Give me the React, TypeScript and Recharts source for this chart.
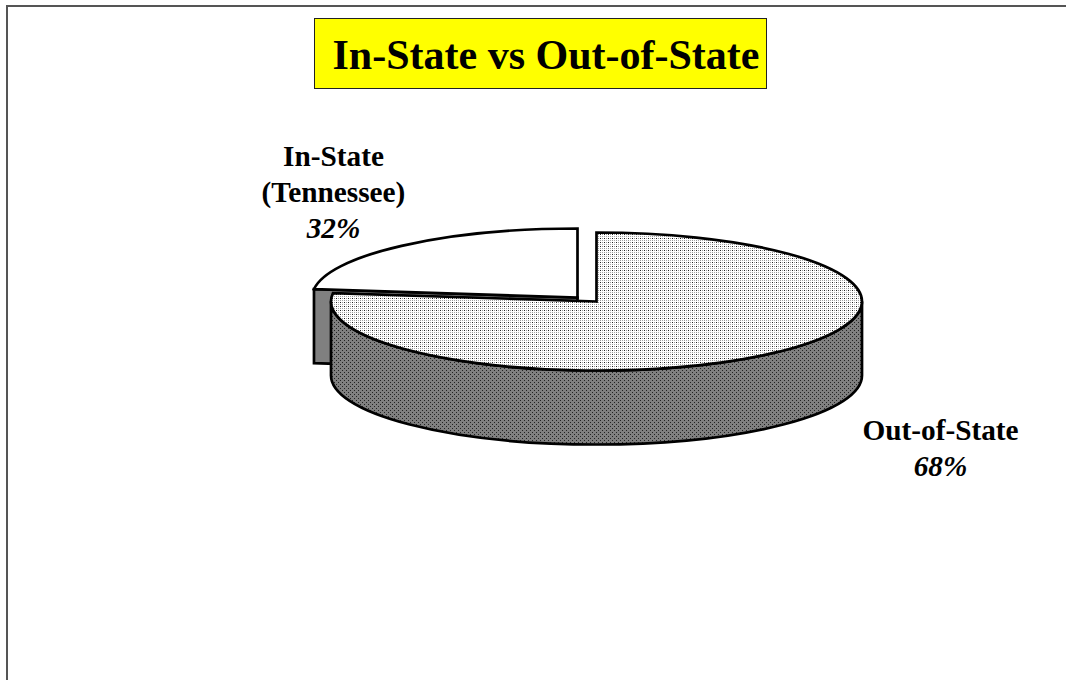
import { Pie, PieChart } from "recharts";

// values as labelled on the slide
const categories = ["In-State (Tennessee)", "Out-of-State"];
const shares = [32, 68];
const labelLines = [["In-State", "(Tennessee)"], ["Out-of-State"]];

const WIDTH = 1066;
const HEIGHT = 680;
const TILT = 69 / 265.5;
const DEPTH = 74;
const SERIF = '"Liberation Serif", "Times New Roman", serif';

// how far each slice is pulled out of the pie, and where its label sits
const explode = [
  { dx: -19, dy: -4 },
  { dx: 0, dy: 0 },
];
const labelPos = [
  { x: 333.5, y: 166 },
  { x: 940.5, y: 440 },
];

const pieData = categories.map((name, i) => ({ name, value: shares[i] }));

// the slide's 3D view stretches the big slice: 115.2 degrees of pie show as 83
const warp = (a: number) => {
  const f = a - 90;
  const split = 115.2;
  const drawn = 83;
  return f <= split
    ? 90 + (f * drawn) / split
    : 90 + drawn + ((f - split) * (360 - drawn)) / (360 - split);
};

const Slice = (props: any) => {
  const { cx, cy, outerRadius: r, startAngle, endAngle, index } = props;
  const i = index ?? categories.indexOf(props.name);
  const x0 = cx + explode[i].dx;
  const y0 = cy + explode[i].dy;
  const ry = r * TILT;
  const pt = (deg: number, drop = 0) => {
    const t = (deg * Math.PI) / 180;
    return `${x0 + r * Math.cos(t)} ${y0 - ry * Math.sin(t) + drop}`;
  };
  const a0 = warp(startAngle);
  const a1 = warp(endAngle);
  const large = a1 - a0 > 180 ? 1 : 0;
  const top = `M ${x0} ${y0} L ${pt(a0)} A ${r} ${ry} 0 ${large} 0 ${pt(a1)} Z`;
  const w0 = Math.max(a0, 180);
  const w1 = Math.min(a1, 360);
  return (
    <g stroke="#000" strokeWidth={2.7} strokeLinejoin="miter">
      {a1 < 180 && (
        <path
          d={`M ${pt(a1)} L ${x0} ${y0} L ${x0} ${y0 + DEPTH} L ${pt(a1, DEPTH)} Z`}
          fill="#808080"
        />
      )}
      {w1 > w0 && (
        <path
          d={`M ${pt(w0)} L ${pt(w0, DEPTH)} A ${r} ${ry} 0 0 0 ${pt(w1, DEPTH)} L ${pt(w1)} A ${r} ${ry} 0 0 1 ${pt(w0)} Z`}
          fill="url(#darkDots)"
        />
      )}
      <path d={top} fill={i === 0 ? "#fff" : "url(#lightDots)"} />
    </g>
  );
};

const SliceLabel = (props: any) => {
  const { index, value } = props;
  const { x, y } = labelPos[index];
  const lines = labelLines[index];
  return (
    <text
      x={x}
      y={y}
      textAnchor="middle"
      fontFamily={SERIF}
      fontSize={29.3}
      fontWeight={700}
      fill="#000"
    >
      {lines.map((line, n) => (
        <tspan key={line} x={x} y={y + n * 36}>
          {line}
        </tspan>
      ))}
      <tspan x={x} y={y + lines.length * 36} fontStyle="italic">
        {value}%
      </tspan>
    </text>
  );
};

export default function App() {
  return (
    <div
      style={{
        position: "absolute",
        left: 0,
        top: 0,
        width: WIDTH,
        height: HEIGHT,
        overflow: "hidden",
        background: "#fff",
      }}
    >
      <div
        style={{
          position: "absolute",
          left: 6,
          top: 5,
          width: WIDTH,
          height: HEIGHT,
          borderTop: "2px solid #555",
          borderLeft: "2px solid #555",
        }}
      />
      <PieChart
        width={WIDTH}
        height={HEIGHT}
        margin={{ top: 0, right: 0, bottom: 0, left: 0 }}
        style={{ position: "absolute", left: 0, top: 0 }}
      >
        <defs>
          <pattern id="lightDots" width="4" height="4" patternUnits="userSpaceOnUse">
            <rect width="4" height="4" fill="#fff" />
            <rect x="0" y="0" width="1" height="1" fill="#999" />
            <rect x="2" y="2" width="1" height="1" fill="#999" />
            <rect x="2" y="0" width="1" height="1" fill="#aaa" />
            <rect x="0" y="2" width="1" height="1" fill="#222" />
          </pattern>
          <pattern id="darkDots" width="4" height="4" patternUnits="userSpaceOnUse">
            <rect width="4" height="4" fill="#808080" />
            <rect x="0" y="0" width="1" height="1" fill="#222" />
            <rect x="2" y="2" width="1" height="1" fill="#222" />
          </pattern>
        </defs>
        <Pie
          data={pieData}
          dataKey="value"
          nameKey="name"
          cx={596.5}
          cy={301.5}
          innerRadius={0}
          outerRadius={265.5}
          startAngle={90}
          endAngle={450}
          paddingAngle={0}
          isAnimationActive={false}
          shape={Slice}
          label={SliceLabel}
          labelLine={false}
        />
      </PieChart>
      <div
        style={{
          position: "absolute",
          left: 314,
          top: 18,
          width: 453,
          height: 71,
          boxSizing: "border-box",
          border: "1px solid #222",
          paddingLeft: 11,
          background: "#ffff00",
          fontFamily: SERIF,
          fontWeight: 700,
          fontSize: 42,
          lineHeight: "73px",
          textAlign: "center",
          color: "#000",
          whiteSpace: "nowrap",
        }}
      >
        In-State vs Out-of-State
      </div>
    </div>
  );
}
